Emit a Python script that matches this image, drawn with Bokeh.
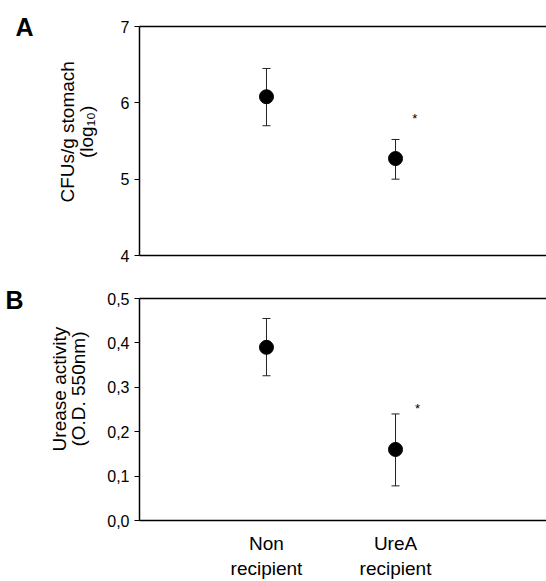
from bokeh.plotting import figure
from bokeh.layouts import column
from bokeh.models import (ColumnDataSource, Whisker, LinearAxis, FixedTicker,
                          Range1d)
from bokeh.embed import file_html
from bokeh.resources import INLINE

# ---- data ----
groups = ["Non\nrecipient", "UreA\nrecipient"]
group_pos = [1, 2]

cfu_mean = [6.08, 5.27]
cfu_upper = [6.45, 5.52]
cfu_lower = [5.70, 5.00]
cfu_ticks = [4, 5, 6, 7]
cfu_title = "CFUs/g stomach\n(log\u2081\u2080)"
cfu_title_y = 5.62

urease_mean = [0.39, 0.16]
urease_upper = [0.455, 0.24]
urease_lower = [0.326, 0.078]
urease_ticks = [0.0, 0.1, 0.2, 0.3, 0.4, 0.5]
urease_tick_labels = ["0,0", "0,1", "0,2", "0,3", "0,4", "0,5"]
urease_title = "Urease activity\n(O.D. 550nm)"
urease_title_y = 0.296

star_x = [2.15, 2.17]
star_y_cfu = 5.80
star_y_urease = 0.253

panel_letters = ["A", "B"]
letter_y = [7.0, 0.496]

FONT = "Liberation Sans"


def plain_axis(ax):
    ax.ticker = FixedTicker(ticks=[])
    ax.major_label_text_font_size = "0px"
    ax.major_tick_out = 0
    ax.major_tick_in = 0
    ax.minor_tick_line_color = None
    ax.axis_line_width = 1.5
    ax.axis_line_color = "black"


def label_axis(pos, text, standoff, size, bold=False, orientation="horizontal"):
    return LinearAxis(ticker=FixedTicker(ticks=[pos]),
                      major_label_overrides={pos: text},
                      axis_line_color=None, major_tick_line_color=None,
                      minor_tick_line_color=None, major_tick_out=0, major_tick_in=0,
                      major_label_standoff=standoff,
                      major_label_orientation=orientation,
                      major_label_text_font=FONT,
                      major_label_text_font_style="bold" if bold else "normal",
                      major_label_text_font_size=size,
                      major_label_text_line_height=0.95,
                      major_label_text_color="black")


def style(p, ticks, title, ty, title_standoff, letter, ly, letter_standoff):
    p.outline_line_color = None
    p.xgrid.visible = False
    p.ygrid.visible = False
    p.background_fill_color = "white"
    p.border_fill_color = "white"
    ax = p.left[0]
    ax.ticker = FixedTicker(ticks=ticks)
    ax.axis_line_color = "black"
    ax.axis_line_width = 1.5
    ax.major_tick_in = 0
    ax.major_tick_out = 5
    ax.minor_tick_line_color = None
    ax.major_label_text_font = FONT
    ax.major_label_text_font_size = "16px"
    ax.major_label_text_color = "black"
    ax.major_label_standoff = 5
    top = LinearAxis()
    plain_axis(top)
    p.add_layout(top, "above")
    p.add_layout(label_axis(ty, title, title_standoff, "19px",
                            orientation="vertical"), "left")
    p.add_layout(label_axis(ly, letter, letter_standoff, "25px", bold=True), "left")


def draw(p, mean, upper, lower):
    src = ColumnDataSource(dict(x=group_pos, y=mean, upper=upper, lower=lower))
    w = Whisker(base="x", upper="upper", lower="lower", source=src,
                line_color="#222222", line_width=1)
    w.upper_head.size = 8
    w.lower_head.size = 8
    w.upper_head.line_color = "#222222"
    w.lower_head.line_color = "#222222"
    p.add_layout(w)
    p.scatter("x", "y", source=src, size=14, color="black")


XR = (0.016, 3.17)

# ---- panel A ----
pa = figure(width=546, height=270, x_range=Range1d(*XR), y_range=Range1d(4, 7),
            output_backend="svg", toolbar_location=None,
            min_border_left=139, min_border_right=0, min_border_top=26,
            min_border_bottom=15)
style(pa, cfu_ticks, cfu_title, cfu_title_y, 20, panel_letters[0], letter_y[0], 20)
plain_axis(pa.below[0])
draw(pa, cfu_mean, cfu_upper, cfu_lower)
pa.text(x=[star_x[0]], y=[star_y_cfu], text=["*"], text_font_size="13px",
        text_align="center", text_baseline="middle", text_color="black")

# ---- panel B ----
pb = figure(width=546, height=311, x_range=Range1d(*XR), y_range=Range1d(0, 0.5),
            output_backend="svg", toolbar_location=None,
            min_border_left=139, min_border_right=0, min_border_top=28,
            min_border_bottom=57)
style(pb, urease_ticks, urease_title, urease_title_y, 15,
      panel_letters[1], letter_y[1], 22)
pb.left[0].major_label_overrides = {t: l for t, l in zip(urease_ticks, urease_tick_labels)}
xb = pb.below[0]
xb.ticker = FixedTicker(ticks=group_pos)
xb.major_label_overrides = {p: g for p, g in zip(group_pos, groups)}
xb.major_label_text_font = FONT
xb.major_label_text_font_size = "19px"
xb.major_label_text_color = "black"
xb.major_label_standoff = 12
xb.major_tick_out = 0
xb.major_tick_in = 0
xb.minor_tick_line_color = None
xb.axis_line_width = 1.5
xb.axis_line_color = "black"
draw(pb, urease_mean, urease_upper, urease_lower)
pb.text(x=[star_x[1]], y=[star_y_urease], text=["*"], text_font_size="13px",
        text_align="center", text_baseline="middle", text_color="black")

layout = column(pa, pb, spacing=0)
open("out.html", "w").write(file_html(layout, INLINE))
